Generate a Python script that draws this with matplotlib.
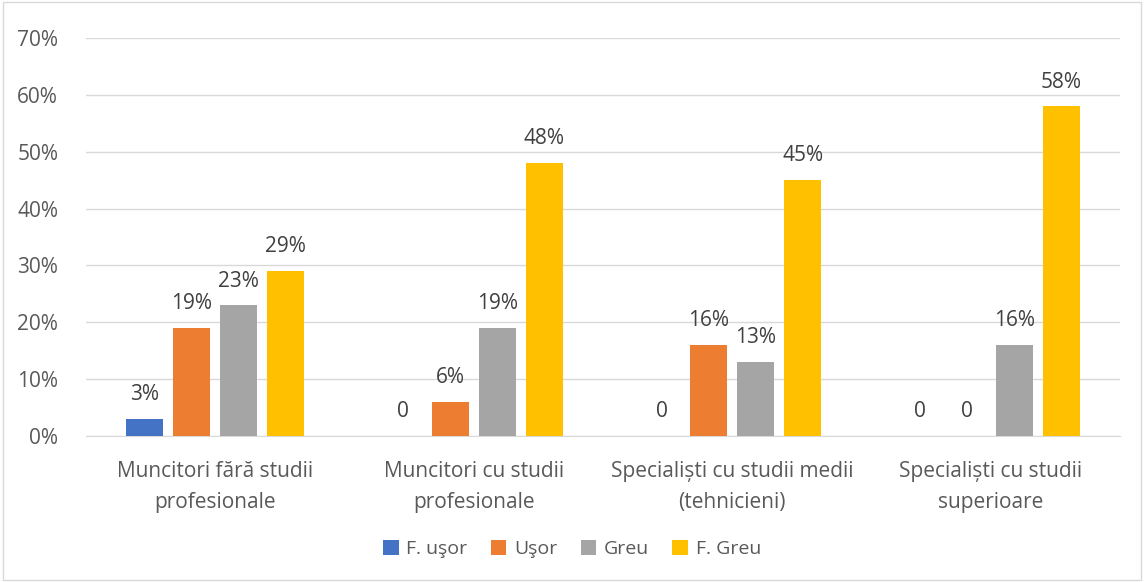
import matplotlib
matplotlib.use("Agg")
import matplotlib.pyplot as plt
import numpy as np
from matplotlib.patches import Rectangle

categories = ["Muncitori fără studii\nprofesionale", "Muncitori cu studii\nprofesionale",
              "Specialiști cu studii medii\n(tehnicieni)", "Specialiști cu studii\nsuperioare"]
series_names = ["F. uşor", "Uşor", "Greu", "F. Greu"]
f_usor = [3, 0, 0, 0]
usor = [19, 6, 16, 0]
greu = [23, 19, 13, 16]
f_greu = [29, 48, 45, 58]
colors = ["#4472C4", "#ED7D31", "#A5A5A5", "#FFC000"]
yticks = [0, 10, 20, 30, 40, 50, 60, 70]

plt.rcParams['font.family'] = ['Open Sans', 'DejaVu Sans']
txt = "#595959"

fig = plt.figure(figsize=(11.44, 5.82), dpi=100)
ax = fig.add_axes([86/1144, 1-436/582, 1034/1144, 398/582])
fig.patches.append(Rectangle((0.003, 0.003), 0.994, 0.994, transform=fig.transFigure,
                             fill=False, edgecolor="#d9d9d9", linewidth=1))

x = np.arange(len(categories))
pitch = 0.182
width = 0.143
all_series = [f_usor, usor, greu, f_greu]
for i, (vals, name, c) in enumerate(zip(all_series, series_names, colors)):
    pos = x + (i - 1.5) * pitch
    ax.bar(pos, vals, width, color=c, label=name, zorder=3)
    for p, v in zip(pos, vals):
        lab = "0" if v == 0 else f"{v}%"
        ax.text(p, v + 2.4, lab, ha="center", va="bottom", fontsize=15, color="#404040")

ax.set_xlim(-0.5, 3.5)
ax.set_ylim(0, 70)
ax.set_yticks(yticks)
ax.set_yticklabels([f"{t}%" for t in yticks], fontsize=15, color=txt)
ax.yaxis.grid(True, color="#d9d9d9", linewidth=1, zorder=0)
ax.set_xticks(x)
ax.set_xticklabels(categories, fontsize=15, color=txt, linespacing=1.6)
ax.tick_params(axis="x", length=0, pad=18)
ax.tick_params(axis="y", length=0, pad=20)
for s in ["top", "right", "left"]:
    ax.spines[s].set_visible(False)
ax.spines["bottom"].set_color("#d9d9d9")

leg = fig.legend(loc="center", bbox_to_anchor=(0.5, 1-549/582), ncol=4, frameon=False,
                 fontsize=14, handlelength=0.8, handleheight=0.8, columnspacing=1.2,
                 handletextpad=0.4)
for t in leg.get_texts():
    t.set_color(txt)

fig.savefig("out.png", dpi=100)
